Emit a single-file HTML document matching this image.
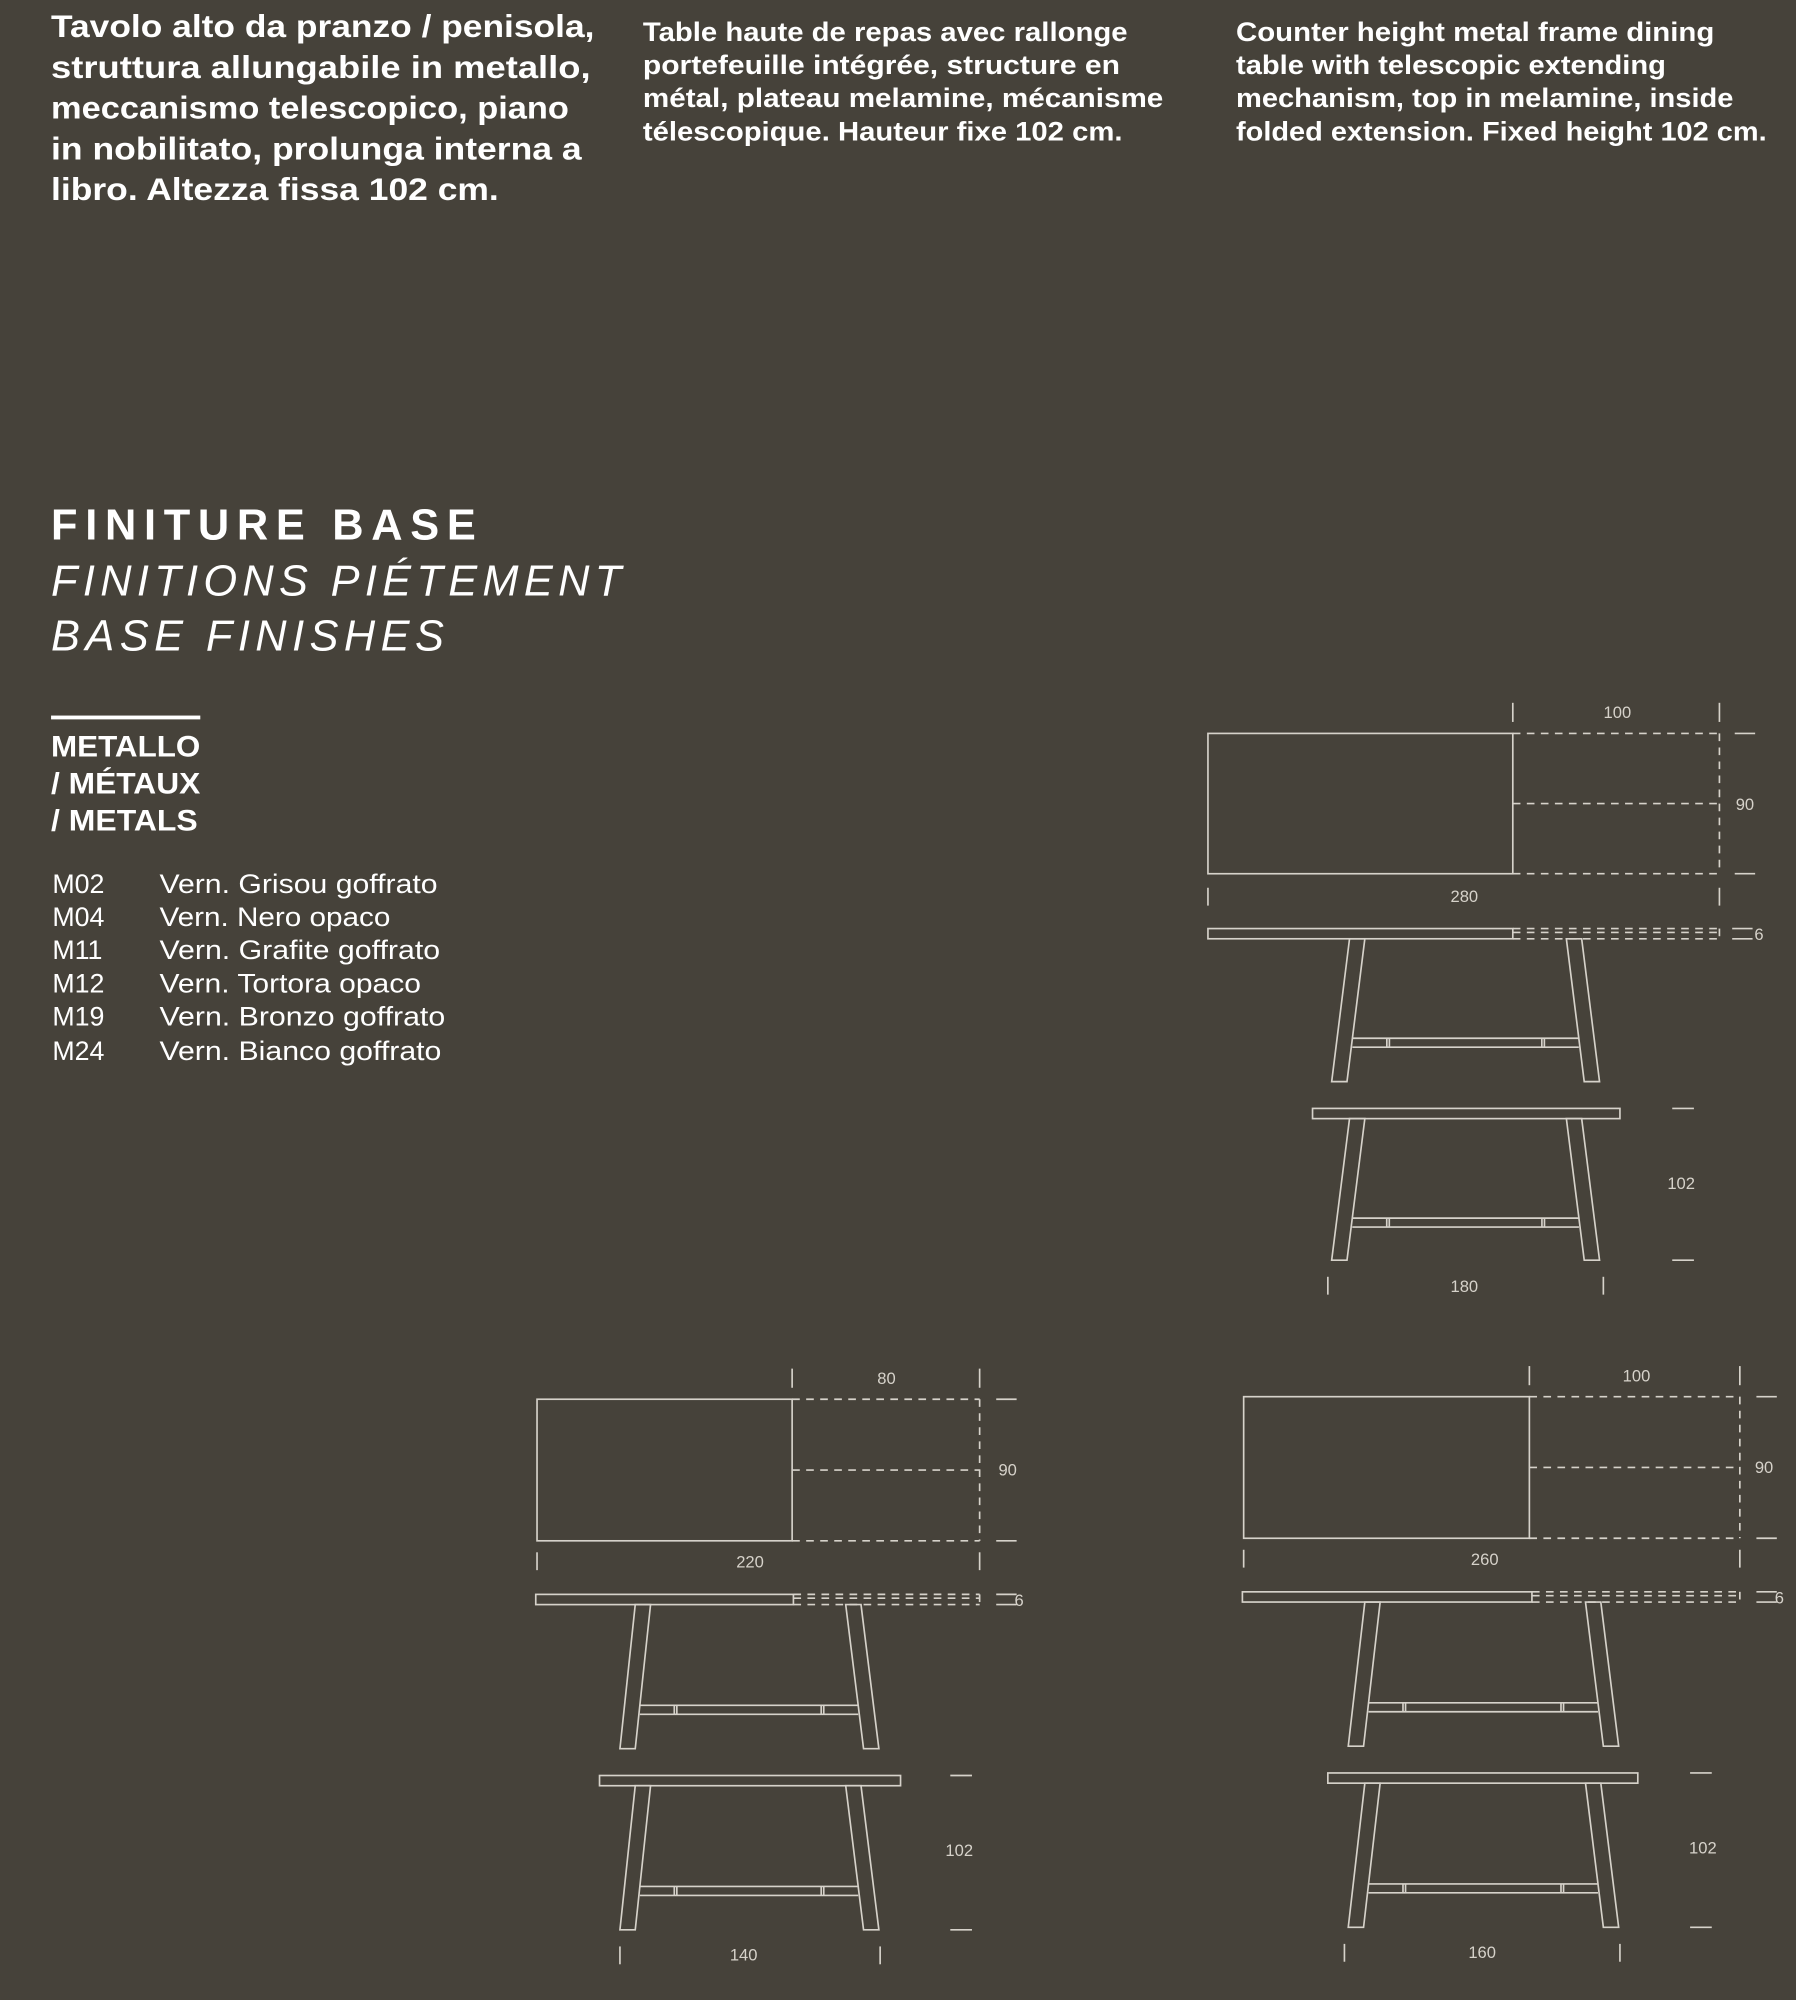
<!DOCTYPE html>
<html><head><meta charset="utf-8"><style>
html,body{margin:0;padding:0;background:#46423a;}
svg{display:block}
.h{font-family:"Liberation Sans Narrow","Liberation Sans",sans-serif;font-weight:bold;fill:#fff}
.s{font-family:"Liberation Sans",sans-serif;fill:#fff}
.d{font-family:"Liberation Sans",sans-serif;font-size:13px;fill:#d6d2ca;text-anchor:middle}
</style></head><body>
<svg id="s" width="1796" height="2000" viewBox="0 0 1408 1568" xmlns="http://www.w3.org/2000/svg">
<rect width="1408" height="1568" fill="#46423a"/>
<g class="h" font-size="25">
<text x="40" y="29" textLength="426" lengthAdjust="spacingAndGlyphs">Tavolo alto da pranzo / penisola,</text>
<text x="40" y="61" textLength="423" lengthAdjust="spacingAndGlyphs">struttura allungabile in metallo,</text>
<text x="40" y="93" textLength="406" lengthAdjust="spacingAndGlyphs">meccanismo telescopico, piano</text>
<text x="40" y="125" textLength="416" lengthAdjust="spacingAndGlyphs">in nobilitato, prolunga interna a</text>
<text x="40" y="157" textLength="351" lengthAdjust="spacingAndGlyphs">libro. Altezza fissa 102 cm.</text>
</g>
<g class="h" font-size="21">
<text x="504" y="32" textLength="380" lengthAdjust="spacingAndGlyphs">Table haute de repas avec rallonge</text>
<text x="504" y="58" textLength="374" lengthAdjust="spacingAndGlyphs">portefeuille intégrée, structure en</text>
<text x="504" y="84" textLength="408" lengthAdjust="spacingAndGlyphs">métal, plateau melamine, mécanisme</text>
<text x="504" y="110" textLength="376" lengthAdjust="spacingAndGlyphs">télescopique. Hauteur fixe 102 cm.</text>
<text x="969" y="32" textLength="375" lengthAdjust="spacingAndGlyphs">Counter height metal frame dining</text>
<text x="969" y="58" textLength="337" lengthAdjust="spacingAndGlyphs">table with telescopic extending</text>
<text x="969" y="84" textLength="390" lengthAdjust="spacingAndGlyphs">mechanism, top in melamine, inside</text>
<text x="969" y="110" textLength="416" lengthAdjust="spacingAndGlyphs">folded extension. Fixed height 102 cm.</text>
</g>
<text class="s" x="40" y="423" font-size="34" font-weight="bold" textLength="333" lengthAdjust="spacing">FINITURE BASE</text>
<text class="s" x="40" y="467" font-size="34" font-style="italic" textLength="447" lengthAdjust="spacing">FINITIONS PIÉTEMENT</text>
<text class="s" x="40" y="510" font-size="34" font-style="italic" textLength="308" lengthAdjust="spacing">BASE FINISHES</text>
<rect x="40" y="561" width="117" height="3" fill="#fff"/>
<g class="s" font-size="23" font-weight="bold">
<text x="40" y="593" textLength="117" lengthAdjust="spacingAndGlyphs">METALLO</text>
<text x="40" y="622" textLength="117" lengthAdjust="spacingAndGlyphs">/ MÉTAUX</text>
<text x="40" y="651" textLength="115" lengthAdjust="spacingAndGlyphs">/ METALS</text>
</g>
<g class="s" font-size="21" fill="#eee">
<text x="41" y="700">M02</text><text x="125" y="700" textLength="218" lengthAdjust="spacingAndGlyphs">Vern. Grisou goffrato</text>
<text x="41" y="726">M04</text><text x="125" y="726" textLength="181" lengthAdjust="spacingAndGlyphs">Vern. Nero opaco</text>
<text x="41" y="752">M11</text><text x="125" y="752" textLength="220" lengthAdjust="spacingAndGlyphs">Vern. Grafite goffrato</text>
<text x="41" y="778">M12</text><text x="125" y="778" textLength="205" lengthAdjust="spacingAndGlyphs">Vern. Tortora opaco</text>
<text x="41" y="804">M19</text><text x="125" y="804" textLength="224" lengthAdjust="spacingAndGlyphs">Vern. Bronzo goffrato</text>
<text x="41" y="831">M24</text><text x="125" y="831" textLength="221" lengthAdjust="spacingAndGlyphs">Vern. Bianco goffrato</text>
</g>
<g id="dr" fill="none" stroke="#d6d2ca" stroke-width="1.3"></g>
<text class="d" x="1268" y="563">100</text><text class="d" x="1368" y="635">90</text><text class="d" x="1148" y="707">280</text><text class="d" x="1379" y="737" text-anchor="start">6</text>
<text class="d" x="1318" y="932">102</text><text class="d" x="1148" y="1013">180</text>
<text class="d" x="695" y="1085">80</text><text class="d" x="790" y="1157">90</text><text class="d" x="588" y="1229">220</text><text class="d" x="799" y="1259" text-anchor="start">6</text>
<text class="d" x="752" y="1455">102</text><text class="d" x="583" y="1537">140</text>
<text class="d" x="1283" y="1083">100</text><text class="d" x="1383" y="1155">90</text><text class="d" x="1164" y="1227">260</text><text class="d" x="1395" y="1257" text-anchor="start">6</text>
<text class="d" x="1335" y="1453">102</text><text class="d" x="1162" y="1535">160</text>
</svg>
<script>
(function(){
var g=document.getElementById('dr'),NS='http://www.w3.org/2000/svg';
function el(t,a){var e=document.createElementNS(NS,t);for(var k in a)e.setAttribute(k,a[k]);g.appendChild(e);return e;}
function L(x1,y1,x2,y2,d){var e=el('line',{x1:x1,y1:y1,x2:x2,y2:y2});if(d)e.setAttribute('stroke-dasharray','6,5');}
function R(x,y,w,h){el('rect',{x:x,y:y,width:w,height:h});}
function plan(x1,x2,xe,y1,y2,tk,rt,bt){
 R(x1,y1,x2-x1,y2-y1);var ym=(y1+y2)/2;
 L(x2,y1,xe,y1,1);L(x2,ym,xe,ym,1);L(x2,y2,xe,y2,1);L(xe,y1,xe,y2,1);
 L(x2,tk,x2,tk+15);L(xe,tk,xe,tk+15);
 L(rt,y1,rt+16,y1);L(rt,y2,rt+16,y2);
 L(x1,bt,x1,bt+14);L(xe,bt,xe,bt+14);}
function slab(x1,x2,xe,y,rt){R(x1,y,x2-x1,8);L(x2,y,xe,y,1);L(x2,y+3,xe,y+3,1);L(x2,y+8,xe,y+8,1);L(xe,y,xe,y+8,1);L(rt,y,rt+16,y);L(rt,y+8,rt+16,y+8);}
function legs(lt,lb,rt_,rb,yt,yb,s){
 el('polygon',{points:lt+','+yt+' '+(lt+12)+','+yt+' '+(lb+12)+','+yb+' '+lb+','+yb});
 el('polygon',{points:rt_+','+yt+' '+(rt_+12)+','+yt+' '+(rb+12)+','+yb+' '+rb+','+yb});
 var f=(s-yt)/(yb-yt);var a=lt+12+(lb-lt)*f,b=rt_+(rb-rt_)*f;
 L(a,s,b,s);L(a,s+7,b,s+7);
 L(a+27,s,a+27,s+7);L(a+29,s,a+29,s+7);L(b-29,s,b-29,s+7);L(b-27,s,b-27,s+7);}
function side(x1,x2,y,yb,lt,lb,rt_,rb,s,hx,bx1,bx2){R(x1,y,x2-x1,8);legs(lt,lb,rt_,rb,y+8,yb,s);L(hx,y,hx+17,y);L(hx,yb,hx+17,yb);L(bx1,yb+13,bx1,yb+27);L(bx2,yb+13,bx2,yb+27);}
plan(947,1186,1348,575,685,551,1360,696);
slab(947,1186,1348,728,1358);legs(1058,1044,1228,1242,736,848,814);
side(1029,1270,869,988,1058,1044,1228,1242,955,1311,1041,1257);
plan(421,621,768,1097,1208,1073,781,1217);
slab(420,622,768,1250,781);legs(498,486,663,677,1258,1371,1337);
side(470,706,1392,1513,498,486,663,677,1479,745,486,690);
plan(975,1199,1364,1095,1206,1071,1377,1215);
slab(974,1201,1364,1248,1377);legs(1070,1057,1243,1257,1256,1369,1335);
side(1041,1284,1390,1511,1070,1057,1243,1257,1477,1325,1054,1270);
})();
</script>
</body></html>
